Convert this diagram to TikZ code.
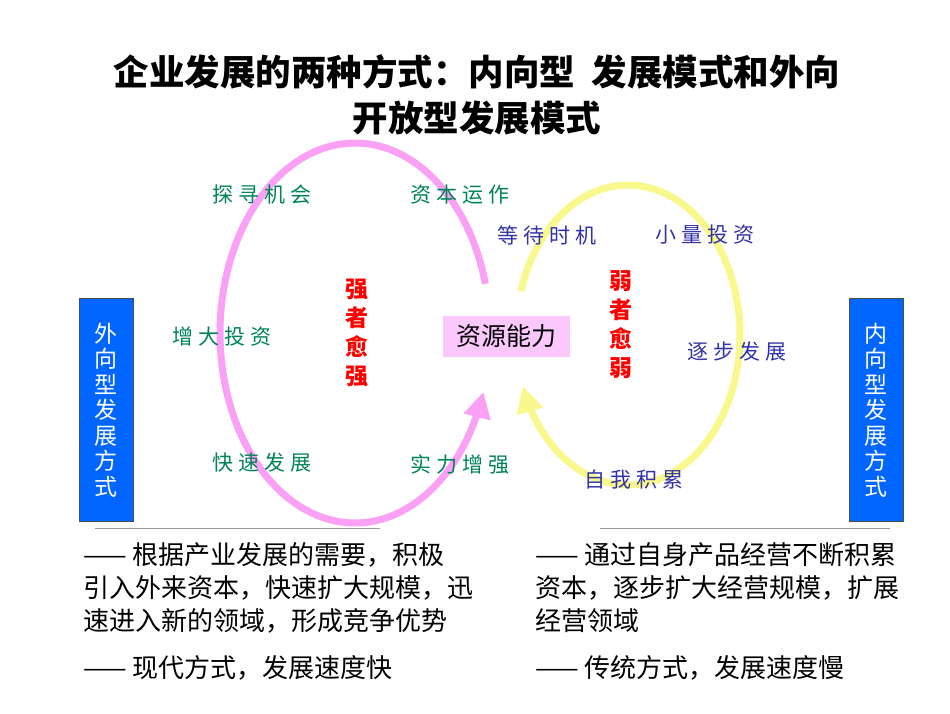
\documentclass[tikz,border=0pt]{standalone}
\usepackage{fontspec}
\setmainfont{Noto Sans CJK SC}
\newfontfamily\cjk{Noto Sans CJK SC}
\usetikzlibrary{arrows.meta}
\definecolor{tgreen}{RGB}{0,130,90}
\definecolor{tblue}{RGB}{50,50,170}
\definecolor{pinkloop}{RGB}{250,160,245}
\definecolor{yelloop}{RGB}{248,248,140}
\definecolor{boxblue}{RGB}{0,102,255}
\definecolor{boxpink}{RGB}{250,200,250}
\tikzset{
  green txt/.style={text=tgreen,font=\fontsize{21}{24}\selectfont},
  blue txt/.style={text=tblue,font=\fontsize{21}{24}\selectfont},
  red txt/.style={text=red,font=\fontsize{23}{29}\selectfont\bfseries,align=center},
  side box/.style={fill=boxblue,draw=black!70,line width=1pt,minimum width=54,minimum height=223,text=white,font=\fontsize{23}{25.5}\selectfont,align=center,inner sep=0},
  body txt/.style={anchor=north west,font=\fontsize{26}{33}\selectfont,align=left,inner sep=0},
}
\begin{document}
\begin{tikzpicture}[x=1pt,y=-1pt]
\useasboundingbox (0,0) rectangle (950,713);
\node[font=\fontsize{35.5}{46}\selectfont\bfseries,align=center] (title) at (477,95) {企业发展的两种方式：内向型\ \ 发展模式和外向\\开放型发展模式};
% loops
\draw[pinkloop,line width=7,-{Triangle[length=26,width=26]}] plot[domain=15:342,samples=120] ({355+135*cos(\x)},{333-190*sin(\x)});
\draw[yelloop,line width=7,{Triangle[length=26,width=26]}-] plot[domain=-160:163,samples=120] ({628+112*cos(\x)},{335-150*sin(\x)});
\node[fill=boxpink,minimum width=127,minimum height=41,inner sep=0,font=\fontsize{25}{27}\selectfont] (res) at (506,336) {资源能力};
\node[side box] (left) at (106,410) {外\\向\\型\\发\\展\\方\\式};
\node[side box] (right) at (876,410) {内\\向\\型\\发\\展\\方\\式};
\node[green txt] (g1) at (262,195) {探 寻 机 会};
\node[green txt] (g2) at (460,195) {资 本 运 作};
\node[green txt] (g3) at (222,337) {增 大 投 资};
\node[green txt] (g4) at (262,463) {快 速 发 展};
\node[green txt] (g5) at (460,465) {实 力 增 强};
\node[blue txt] (b1) at (547,235) {等 待 时 机};
\node[blue txt] (b2) at (705,235) {小 量 投 资};
\node[blue txt] (b3) at (737,352) {逐 步 发 展};
\node[blue txt] (b4) at (634,480) {自 我 积 累};
\node[red txt] (r1) at (357,333) {强\\者\\愈\\强};
\node[red txt] (r2) at (621,325) {弱\\者\\愈\\弱};
\coordinate (l1) at (95,528); \coordinate (l2) at (380,528);
\coordinate (l3) at (600,528); \coordinate (l4) at (890,528);
\draw[black!40,line width=0.8] (l1) -- (l2);
\draw[black!40,line width=0.8] (l3) -- (l4);
\node[body txt] (t1) at (83,542) {—— 根据产业发展的需要，积极\\引入外来资本，快速扩大规模，迅\\速进入新的领域，形成竞争优势};
\node[body txt] (t2) at (83,655) {—— 现代方式，发展速度快};
\node[body txt] (t3) at (535,542) {—— 通过自身产品经营不断积累\\资本，逐步扩大经营规模，扩展\\经营领域};
\node[body txt] (t4) at (535,655) {—— 传统方式，发展速度慢};
\end{tikzpicture}
\end{document}
